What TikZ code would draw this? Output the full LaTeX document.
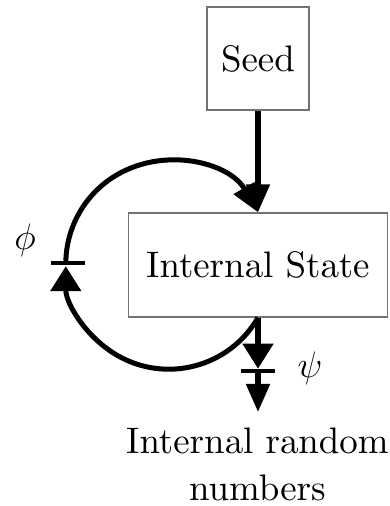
\documentclass[tikz,border=0pt]{standalone}
\usepackage{fix-cm}
\usetikzlibrary{arrows.meta}
\font\diagfont=cmr10 at 21pt
\begin{document}
\begin{tikzpicture}[
  every node/.style={font=\fontsize{21}{25}\selectfont\diagfont},
  block/.style={rectangle, draw=black!55, line width=0.8pt, inner sep=0pt},
  gate/.style={rectangle, fill=black, inner sep=0pt, minimum width=0.68cm, minimum height=0.08cm},
  flow/.style={line width=0.1cm, >={Triangle[length=0.56cm, width=0.46cm]}},
  gateflow/.style={line width=0.1cm, -{Triangle[length=0.5cm, width=0.6cm]}}
]
  \useasboundingbox (0,0) rectangle (7.8,10.12);

  % Bloques
  \node[block, minimum width=2.04cm, minimum height=2.06cm] (seed) at (5.16,8.95) {Seed};
  \node[block, minimum width=5.18cm, minimum height=2.08cm] (state) at (5.16,4.82) {Internal State};

  % Compuertas
  \node[gate] (phibar) at (1.35,4.85) {};
  \node[gate] (psibar) at (5.16,2.70) {};
  \node (phi) at (0.5,5.32) {$\phi$};
  \node (psi) at (6.2,2.76) {$\psi$};
  \coordinate (out) at (5.16,1.88);
  \node[align=center, anchor=base, inner sep=0pt] (numbers) at (5.15,0.1) {Internal random\\[2pt]numbers};

  % Flechas
  \draw[flow, ->] (seed) -- (state);
  \draw[gateflow] (state.south) arc[start angle=-30, end angle=-180, radius=2.06cm];
  \draw[flow, <-] (state.north) arc[start angle=30, end angle=180, radius=2.06cm];
  \draw[gateflow] (state.south) -- (psibar.north);
  \draw[flow, ->] (psibar.center) -- (out);
\end{tikzpicture}
\end{document}
